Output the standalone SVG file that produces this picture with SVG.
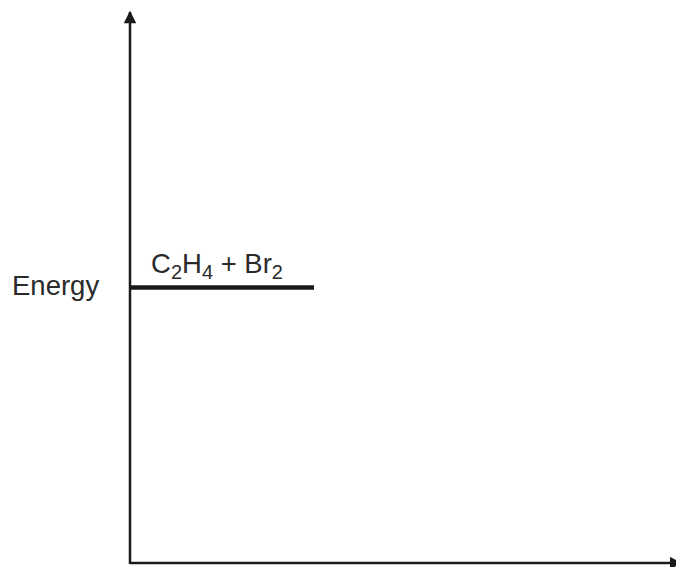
<svg xmlns="http://www.w3.org/2000/svg" width="676" height="567" viewBox="0 0 676 567">
<style>
.ax{stroke:#1a1a1a;stroke-width:2.5;fill:none}
.lvl{stroke:#1a1a1a;stroke-width:4.5}
.t{font-family:"Liberation Sans",Arial,sans-serif;font-size:27.5px;fill:#2a2a2a}
.sub{font-size:20px}
</style>
<defs>
<marker id="ah" viewBox="0 0 10 10" refX="9" refY="5" markerWidth="5.2" markerHeight="5" orient="auto" markerUnits="strokeWidth">
<path d="M0,0 L10,5 L0,10 z" fill="#1a1a1a"/>
</marker>
</defs>
<g id="connectors">
<path class="ax" d="M130,564 L130,12" marker-end="url(#ah)"/>
<path class="ax" d="M130,563 L681,563" marker-end="url(#ah)"/>
</g>
<g id="level">
<line class="lvl" x1="130" y1="287.5" x2="314" y2="287.5"/>
<text class="t" x="151" y="273">C<tspan class="sub" dy="6">2</tspan><tspan dy="-6">H</tspan><tspan class="sub" dy="6">4</tspan><tspan dy="-6"> + Br</tspan><tspan class="sub" dy="6">2</tspan></text>
</g>
<g id="ylabel">
<text class="t" x="12" y="295">Energy</text>
</g>
</svg>
